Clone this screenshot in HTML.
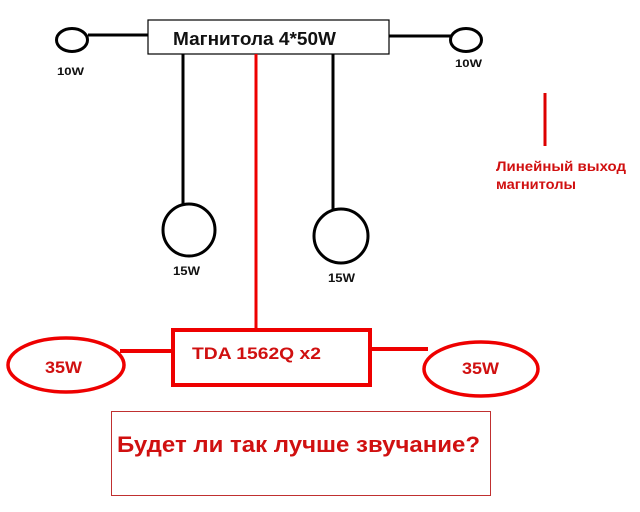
<!DOCTYPE html>
<html><head><meta charset="utf-8"><style>
html,body{margin:0;padding:0;background:#fff;}
svg{display:block;}
text{font-family:"Liberation Sans",sans-serif;font-weight:bold;}
</style></head><body>
<svg width="640" height="512" viewBox="0 0 640 512" xmlns="http://www.w3.org/2000/svg">
<rect width="640" height="512" fill="#fff"/>
<!-- top unit -->
<rect x="148" y="20" width="241" height="34" fill="#fff" stroke="#000" stroke-width="1.2"/>
<text x="173" y="45" font-size="18" fill="#111" textLength="163" lengthAdjust="spacingAndGlyphs">Магнитола 4*50W</text>
<ellipse cx="72" cy="40" rx="15.5" ry="11.5" fill="none" stroke="#000" stroke-width="3"/>
<line x1="88" y1="35" x2="148" y2="35" stroke="#000" stroke-width="3"/>
<text x="57" y="75" font-size="11" fill="#111" textLength="27" lengthAdjust="spacingAndGlyphs">10W</text>
<ellipse cx="466" cy="40" rx="15.5" ry="11.5" fill="none" stroke="#000" stroke-width="3"/>
<line x1="389" y1="36" x2="451" y2="36" stroke="#000" stroke-width="3"/>
<text x="455" y="67" font-size="11" fill="#111" textLength="27" lengthAdjust="spacingAndGlyphs">10W</text>
<!-- black speakers -->
<line x1="183" y1="54" x2="183" y2="206" stroke="#000" stroke-width="3"/>
<circle cx="189" cy="230" r="26" fill="none" stroke="#000" stroke-width="3"/>
<text x="173" y="275" font-size="12" fill="#111" textLength="27" lengthAdjust="spacingAndGlyphs">15W</text>
<line x1="333" y1="54" x2="333" y2="210" stroke="#000" stroke-width="3"/>
<circle cx="341" cy="236" r="27" fill="none" stroke="#000" stroke-width="3"/>
<text x="328" y="282" font-size="12" fill="#111" textLength="27" lengthAdjust="spacingAndGlyphs">15W</text>
<!-- red line -->
<line x1="256" y1="54" x2="256" y2="334" stroke="#e00" stroke-width="3"/>
<line x1="545" y1="93" x2="545" y2="146" stroke="#d00" stroke-width="3"/>
<text x="496" y="171" font-size="13.5" fill="#d01010" textLength="130" lengthAdjust="spacingAndGlyphs">Линейный выход</text>
<text x="496" y="189" font-size="13.5" fill="#d01010" textLength="80" lengthAdjust="spacingAndGlyphs">магнитолы</text>
<!-- TDA -->
<rect x="173" y="330" width="197" height="55" fill="#fff" stroke="#e00" stroke-width="4"/>
<text x="192" y="359" font-size="17" fill="#d01010" textLength="129" lengthAdjust="spacingAndGlyphs">TDA 1562Q x2</text>
<line x1="120" y1="351" x2="173" y2="351" stroke="#e00" stroke-width="4"/>
<line x1="370" y1="349" x2="428" y2="349" stroke="#e00" stroke-width="4"/>
<ellipse cx="66" cy="365" rx="58" ry="27" fill="none" stroke="#e00" stroke-width="3.5"/>
<text x="45" y="373" font-size="17" fill="#d01010" textLength="37" lengthAdjust="spacingAndGlyphs">35W</text>
<ellipse cx="481" cy="369" rx="57" ry="27" fill="none" stroke="#e00" stroke-width="3.5"/>
<text x="462" y="374" font-size="17" fill="#d01010" textLength="37" lengthAdjust="spacingAndGlyphs">35W</text>
<!-- bottom box -->
<rect x="111.5" y="411.5" width="379" height="84" fill="none" stroke="#c03030" stroke-width="1"/>
<text x="117" y="452" font-size="22" fill="#d01010" textLength="363" lengthAdjust="spacingAndGlyphs">Будет ли так лучше звучание?</text>
</svg>
</body></html>
